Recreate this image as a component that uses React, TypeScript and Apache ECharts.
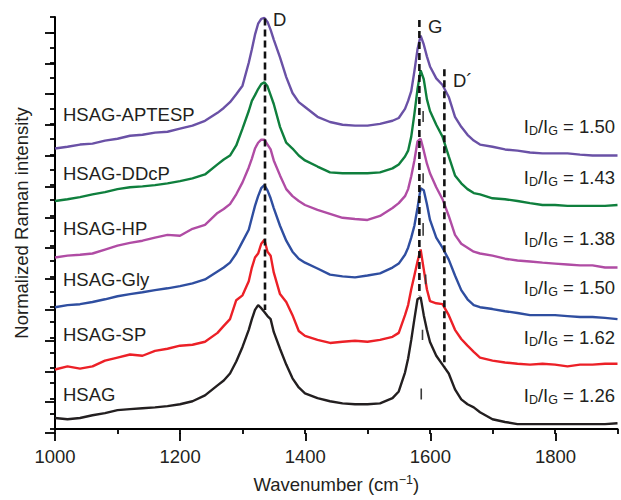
import React, { useEffect, useRef } from "react";
import * as echarts from "echarts";

// Wavenumber grid (cm^-1)
const wavenumbers = [1000,1020,1040,1060,1080,1100,1120,1140,1160,1180,1200,1220,1240,1260,1270,1280,1290,1300,1310,1315,1320,1325,1330,1335,1340,1345,1350,1360,1370,1380,1390,1400,1420,1440,1460,1480,1500,1520,1540,1550,1560,1565,1570,1575,1580,1585,1590,1595,1600,1610,1620,1630,1640,1650,1660,1670,1680,1700,1720,1740,1760,1780,1800,1820,1840,1860,1880,1900];

// Offset normalized intensities
const hsagAptesp = [9.19,9.25,9.32,9.35,9.45,9.51,9.61,9.64,9.71,9.74,9.84,9.94,10.10,10.36,10.52,10.71,10.97,11.25,12.0,12.44,12.92,13.28,13.44,13.47,13.34,13.08,12.76,12.18,11.53,11.01,10.71,10.55,10.23,10.06,9.97,9.94,9.94,10.00,10.10,10.19,10.49,10.75,11.07,11.72,12.44,12.89,12.60,12.21,11.88,11.49,11.27,10.88,10.23,9.90,9.64,9.45,9.32,9.25,9.16,9.12,9.06,9.03,9.03,9.03,8.99,8.96,8.96,8.96];
const hsagDdcp = [7.47,7.53,7.60,7.69,7.76,7.86,7.92,7.95,7.99,8.05,8.12,8.21,8.34,8.67,8.83,8.96,9.29,9.84,10.42,10.75,10.94,11.14,11.30,11.36,11.23,10.94,10.65,9.90,9.38,9.19,8.96,8.80,8.60,8.41,8.38,8.38,8.38,8.41,8.54,8.67,8.93,9.12,9.58,10.32,11.14,11.75,11.46,10.81,10.42,9.97,9.58,8.93,8.31,8.05,7.86,7.73,7.69,7.56,7.53,7.47,7.40,7.34,7.34,7.31,7.31,7.31,7.31,7.34];
const hsagHp = [5.62,5.68,5.71,5.75,5.88,6.01,6.10,6.17,6.27,6.36,6.33,6.56,6.69,7.08,7.21,7.37,7.69,8.08,8.57,8.86,9.19,9.38,9.48,9.48,9.32,9.16,8.80,8.31,7.86,7.63,7.47,7.34,7.18,7.05,6.92,6.88,6.85,6.98,7.24,7.40,7.63,7.86,8.28,8.80,9.42,9.51,9.12,8.70,8.38,7.92,7.53,6.98,6.36,6.07,5.94,5.81,5.75,5.68,5.58,5.52,5.49,5.45,5.42,5.39,5.36,5.36,5.29,5.29];
const hsagGly = [3.99,4.06,4.09,4.16,4.25,4.35,4.42,4.48,4.55,4.61,4.68,4.77,4.90,5.16,5.29,5.45,5.75,6.14,6.53,6.92,7.31,7.63,7.89,7.99,7.82,7.56,7.24,6.66,6.17,5.81,5.58,5.45,5.26,5.06,5.00,4.97,5.03,5.10,5.29,5.42,5.71,5.94,6.27,6.66,7.24,7.89,7.82,7.37,6.85,6.27,5.94,5.55,5.03,4.55,4.25,4.06,3.99,3.93,3.86,3.80,3.73,3.73,3.73,3.70,3.67,3.67,3.64,3.60];
const hsagSp = [1.95,2.05,1.98,2.05,2.24,2.34,2.44,2.40,2.56,2.63,2.73,2.76,2.86,3.15,3.38,3.60,4.22,4.38,4.84,5.29,5.62,5.75,6.07,6.20,5.81,5.68,5.13,4.42,4.16,3.73,3.21,3.05,2.92,2.82,2.86,2.89,2.86,2.92,3.02,3.15,3.73,4.06,4.58,5.03,5.49,5.88,5.23,4.58,4.19,4.12,4.09,3.73,3.25,2.95,2.73,2.53,2.34,2.24,2.18,2.14,2.11,2.14,2.11,2.05,2.11,2.11,2.14,2.14];
const hsag = [0.36,0.32,0.36,0.45,0.52,0.62,0.65,0.68,0.71,0.75,0.81,0.91,1.10,1.43,1.59,1.82,2.21,2.69,3.25,3.60,3.90,4.06,3.96,3.83,3.70,3.60,3.18,2.63,2.11,1.66,1.36,1.17,1.01,0.91,0.84,0.81,0.81,0.84,1.01,1.23,1.85,2.31,2.92,3.60,4.25,4.32,3.73,3.25,2.85,2.40,2.11,1.82,1.30,0.97,0.81,0.71,0.55,0.32,0.23,0.16,0.16,0.16,0.16,0.16,0.16,0.16,0.16,0.19];

const seriesNames = ["HSAG-APTESP", "HSAG-DDcP", "HSAG-HP", "HSAG-Gly", "HSAG-SP", "HSAG"];
const seriesValues = [hsagAptesp, hsagDdcp, hsagHp, hsagGly, hsagSp, hsag];
const ratioValues = ["1.50", "1.43", "1.38", "1.50", "1.62", "1.26"];
const seriesColors = ["#6a51a6", "#0f7f3d", "#b04ca4", "#2f4ea0", "#ec2027", "#231f20"];

// Peak reference lines (D, G, D')
const peakNames = ["D", "G", "D\u00b4"];
const peakPositions = [1336, 1583, 1623];
const peakLineTop = [13.45, 13.4, 11.79];
const peakLineBottom = [3.9, 4.38, 2.05];

// Small "I" marks under the G band of each spectrum
const gMarkPositions = [1589, 1589, 1589, 1593, 1588, 1586];
const gMarkTop = [10.42, 8.38, 6.75, 5.06, 3.25, 1.33];
const gMarkBottom = [10.06, 8.05, 6.33, 4.74, 2.92, 0.97];

const FONT = '"Liberation Sans", Arial, Helvetica, sans-serif';
const TXT = "#231f20";
const FS = 18.5;

// label layout (pixels)
const nameLabelY = [114, 173, 228, 279, 334, 394];
const ratioLabelY = [126, 177, 238, 287, 337, 395];
const peakLabelPos = [[273, 19], [428, 26], [453, 80]];

const App = () => {
  const ref = useRef<HTMLDivElement>(null);
  useEffect(() => {
    const chart = echarts.init(ref.current!, null, { renderer: "svg" });
    const series: any[] = [];
    seriesValues.forEach((vals, i) => {
      series.push({
        type: "line",
        name: seriesNames[i],
        xAxisIndex: 0,
        yAxisIndex: 0,
        data: wavenumbers.map((w, j) => [w, vals[j]]),
        symbol: "none",
        lineStyle: { color: seriesColors[i], width: 2.4 },
        z: 3,
      });
    });
    gMarkPositions.forEach((w, i) => {
      series.push({
        type: "line",
        xAxisIndex: 0,
        yAxisIndex: 0,
        data: [[w, gMarkTop[i]], [w, gMarkBottom[i]]],
        symbol: "none",
        lineStyle: { color: "#3a3a3a", width: 1.6 },
        z: 4,
      });
    });
    peakPositions.forEach((w, i) => {
      series.push({
        type: "line",
        xAxisIndex: 0,
        yAxisIndex: 0,
        data: [[w, peakLineTop[i]], [w, peakLineBottom[i]]],
        symbol: "none",
        lineStyle: { color: "#111", width: 2.6, type: [7, 4] },
        z: 5,
      });
    });

    const graphic: any[] = [];
    seriesNames.forEach((n, i) => {
      graphic.push({
        type: "text",
        x: 63,
        y: nameLabelY[i],
        style: { text: n, fontSize: FS, fontFamily: FONT, fill: TXT, align: "left", verticalAlign: "middle" },
      });
      graphic.push({
        type: "text",
        x: 615,
        y: ratioLabelY[i],
        style: {
          text: "I{sub|D}/I{sub|G} = " + ratioValues[i],
          fontSize: FS,
          fontFamily: FONT,
          fill: TXT,
          align: "right",
          verticalAlign: "middle",
          lineHeight: 22,
          rich: { sub: { fontSize: 12.5, fontFamily: FONT, fill: TXT, verticalAlign: "bottom", lineHeight: 13 } },
        },
      });
    });
    peakNames.forEach((n, i) => {
      graphic.push({
        type: "text",
        x: peakLabelPos[i][0],
        y: peakLabelPos[i][1],
        style: { text: n, fontSize: FS, fontFamily: FONT, fill: TXT, align: "left", verticalAlign: "middle" },
      });
    });

    const axisLine = { show: true, lineStyle: { color: "#000", width: 2 } };
    chart.setOption({
      animation: false,
      backgroundColor: "#fff",
      grid: [
        { left: 55, right: 3.5, top: 17, bottom: 67 },
        { left: 55, right: 65.5, top: 17, bottom: 67 },
        { left: 55, right: 3.5, top: 32.6, bottom: 67 },
      ],
      xAxis: [
        {
          type: "value", gridIndex: 0, min: 1000, max: 1900, interval: 100,
          axisLine, splitLine: { show: false }, axisLabel: { show: false },
          axisTick: { show: true, length: 5, lineStyle: { color: "#000", width: 1.8 } },
          name: "Wavenumber (cm{sup|\u22121})", nameLocation: "middle", nameGap: 44,
          nameTextStyle: {
            fontSize: FS, fontFamily: FONT, color: TXT, lineHeight: 22,
            rich: { sup: { fontSize: 12.5, fontFamily: FONT, color: TXT, verticalAlign: "top", lineHeight: 12 } },
          },
        },
        {
          type: "value", gridIndex: 1, min: 1000, max: 1800, interval: 200,
          axisLine: { show: false }, splitLine: { show: false },
          axisTick: { show: true, length: 8, lineStyle: { color: "#000", width: 1.8 } },
          axisLabel: { show: true, fontSize: FS, fontFamily: FONT, color: TXT, margin: 14, formatter: (v: number) => String(v) },
        },
        { type: "value", gridIndex: 2, min: 1000, max: 1900, show: false },
      ],
      yAxis: [
        {
          type: "value", gridIndex: 0, min: 0, max: 13.5, interval: 0.5,
          axisLine, splitLine: { show: false }, axisLabel: { show: false },
          axisTick: { show: true, length: 5, lineStyle: { color: "#000", width: 1.8 } },
          name: "Normalized Raman intensity", nameLocation: "middle", nameGap: 24, nameRotate: 90,
          nameTextStyle: { fontSize: FS, fontFamily: FONT, color: TXT },
        },
        { type: "value", gridIndex: 1, min: 0, max: 13.5, show: false },
        {
          type: "value", gridIndex: 2, min: 0, max: 13, interval: 1,
          axisLine: { show: false }, splitLine: { show: false }, axisLabel: { show: false },
          axisTick: { show: true, length: 10, lineStyle: { color: "#000", width: 1.8 } },
        },
      ],
      series,
      graphic,
    });
    return () => chart.dispose();
  }, []);
  return <div ref={ref} style={{ position: "fixed", left: 0, top: 0, width: 621, height: 500 }} />;
};

export default App;
